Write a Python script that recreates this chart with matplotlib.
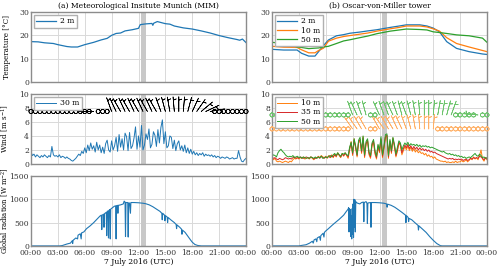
import numpy as np
import matplotlib
matplotlib.use("Agg")
from matplotlib import pyplot as plt

plt.rcParams['font.family'] = ['DejaVu Serif']
plt.rcParams['font.size'] = 5.5
plt.rcParams['mathtext.fontset'] = 'dejavuserif'

C_BLUE = '#1f77b4'
C_ORANGE = '#ff7f0e'
C_RED = '#d62728'
C_GREEN = '#2ca02c'

# ---- temperature (hours, degC)
t_mim_h = [0, 0.8, 1.5, 2.5, 3.0, 4.0, 4.5, 5.2, 6.0, 7.0, 7.8, 8.5, 9.0, 9.5, 10.0, 10.5, 11.3,
           12.0, 12.2, 12.8, 13.5, 13.6, 13.7, 14.1, 14.5, 15.0, 15.5, 16.0, 17.0, 18.0, 19.0,
           20.0, 21.0, 22.0, 23.0, 23.3, 23.6, 24.0]
t_mim_2m = [17.3, 17.2, 16.8, 16.5, 16.0, 15.2, 15.0, 15.0, 16.0, 17.0, 18.0, 18.7, 20.0, 20.8,
            21.0, 21.9, 22.4, 23.0, 24.6, 24.9, 25.1, 24.3, 25.2, 25.9, 25.5, 25.0, 24.8, 24.0,
            23.2, 22.7, 21.9, 21.0, 19.9, 19.0, 18.2, 17.9, 18.4, 16.9]

t_ovm_h = [0, 1.3, 2.8, 3.3, 4.1, 4.8, 5.2, 5.75, 6.3, 7.2, 8.0, 8.7, 9.8, 10.7, 11.7, 13.2, 14.2,
           15.0, 16.5, 17.3, 18.0, 18.7, 19.5, 20.6, 22.0, 23.5, 24.0]
t_ovm_2m = [14.0, 13.7, 13.7, 12.3, 11.1, 11.1, 13.0, 15.6, 18.0, 19.8, 20.3, 20.9, 21.4, 21.9,
            22.4, 23.4, 24.0, 24.5, 24.5, 24.0, 23.1, 21.5, 17.3, 14.4, 13.0, 12.0, 11.8]
t_ovm_10m = [15.3, 14.9, 14.8, 13.8, 12.5, 12.5, 13.5, 14.5, 17.5, 18.8, 19.5, 19.9, 20.5, 21.0,
             21.8, 22.8, 23.4, 24.0, 24.0, 23.6, 22.8, 21.8, 19.0, 16.5, 15.0, 13.5, 13.0]
t_ovm_50m = [17.0, 16.5, 15.0, 14.8, 14.3, 14.5, 14.6, 15.0, 15.3, 16.5, 17.6, 18.1, 19.0, 19.7,
             20.7, 21.8, 22.3, 22.7, 22.5, 22.3, 21.5, 21.2, 20.8, 20.2, 19.8, 18.8, 17.0]

# ---- wind speed, 10 min values (m/s)
wind_mim_30m = [
    1.7, 1.2, 1.4, 1.0, 1.3, 1.1,
    0.9, 1.2, 1.0, 1.3, 1.1, 0.9,
    1.2, 1.0, 2.5, 1.3, 1.1, 1.2,
    1.0, 1.3, 0.9, 1.1, 1.0, 0.8,
    1.0, 0.8, 0.7, 0.5, 0.4, 0.6,
    0.8, 1.1, 1.4, 1.2, 1.8, 1.5,
    2.3, 1.6, 2.7, 1.9, 3.0, 2.1,
    2.6, 1.7, 3.1, 2.0, 2.7, 1.6,
    2.4, 1.5, 2.9, 3.4, 2.0, 1.7,
    3.3, 2.0, 2.6, 3.8, 1.8, 4.2,
    2.4, 3.6, 2.0, 4.4, 3.9, 1.9,
    4.5, 2.2, 2.6, 3.7, 5.3, 2.1,
    4.0, 2.4, 5.5, 2.0, 2.7, 4.3,
    3.5, 5.0, 2.3, 2.8, 4.6, 4.1,
    2.5, 4.9, 3.0, 5.2, 6.3, 2.9,
    4.6, 2.3, 2.6, 4.0, 3.8, 2.2,
    3.4, 1.9, 2.9, 3.3, 2.0, 2.6,
    1.8, 2.7, 1.6, 2.3, 1.5, 2.1,
    1.4, 1.8, 1.3, 1.6, 1.2, 1.5,
    1.3, 1.6, 1.1, 1.4, 1.2, 1.3,
    1.1, 1.3, 1.0, 1.2, 0.9, 1.1,
    1.0, 0.8, 1.0, 0.9, 0.8, 1.0,
    0.9, 0.7, 0.8, 0.9, 0.7, 0.8,
    0.8, 1.9, 1.0, 0.4, 0.3, 0.6,
    0.8]

wind_ovm_10m = [
    0.9, 0.6, 0.8, 0.4, 0.3, 0.4,
    0.3, 0.2, 0.3, 0.4, 0.3, 0.2,
    0.4, 0.3, 0.6, 0.8, 0.7, 0.9,
    0.7, 0.9, 0.8, 1.0, 0.7, 0.8,
    0.9, 0.7, 1.0, 0.8, 0.6, 0.9,
    0.8, 1.1, 0.9, 1.2, 1.0, 0.9,
    1.1, 0.8, 1.2, 1.0, 1.3, 0.9,
    1.4, 1.0, 1.6, 1.2, 0.9, 1.5,
    1.1, 1.6, 1.2, 0.8, 2.0, 3.2,
    1.2, 3.6, 2.2, 1.0, 3.0, 3.3,
    1.5, 3.9, 0.9, 2.8, 3.4, 1.3,
    0.8, 2.6, 3.1, 1.4, 0.7, 2.4,
    1.6, 3.5, 0.9, 2.2, 3.8, 4.0,
    0.8, 3.2, 1.5, 3.7, 2.4, 1.0,
    1.8, 3.0, 2.6, 1.3, 1.9, 2.5,
    2.0, 2.6, 1.9, 2.4, 1.8, 2.2,
    1.7, 2.0, 1.6, 1.8, 1.5, 1.6,
    1.3, 1.5, 1.1, 1.3, 1.0, 1.1,
    0.8, 1.0, 0.7, 0.6, 0.5, 0.4,
    0.4, 0.3, 0.4, 0.2, 0.3, 0.2,
    0.2, 0.3, 0.2, 0.4, 0.2, 0.3,
    0.3, 0.5, 0.3, 0.4, 0.6, 0.3,
    0.5, 0.8, 0.6, 1.0, 0.7, 0.9,
    0.6, 1.2, 2.0, 0.7, 0.4, 0.9,
    0.6]

wind_ovm_35m = [
    1.0, 0.8, 0.9, 0.7, 0.6, 0.8,
    0.7, 0.6, 0.7, 0.9, 0.8, 0.7,
    0.8, 0.7, 0.9, 1.0, 0.8, 0.9,
    0.8, 1.0, 0.9, 0.8, 0.9, 1.0,
    0.9, 0.8, 1.0, 0.9, 0.7, 0.8,
    0.9, 1.0, 0.8, 1.1, 0.9, 0.8,
    1.0, 0.9, 1.1, 0.9, 1.2, 1.0,
    1.3, 1.1, 1.5, 1.3, 1.0, 1.4,
    1.2, 1.5, 1.3, 1.0, 2.2, 3.0,
    1.4, 3.4, 2.4, 1.2, 3.2, 3.5,
    1.7, 3.7, 1.1, 3.0, 3.3, 1.5,
    1.0, 2.8, 3.3, 1.6, 0.9, 2.6,
    1.8, 3.6, 1.1, 2.4, 3.9, 4.1,
    1.0, 3.3, 1.7, 3.6, 2.6, 1.2,
    2.0, 3.1, 2.8, 1.6, 2.2, 2.7,
    2.3, 2.8, 2.2, 2.6, 2.1, 2.5,
    2.1, 2.4, 2.0, 2.3, 2.0, 2.2,
    1.9, 2.1, 1.8, 2.0, 1.7, 1.8,
    1.6, 1.7, 1.5, 1.4, 1.3, 1.2,
    1.1, 1.0, 0.9, 0.8, 0.7, 0.8,
    0.7, 0.8, 0.6, 0.7, 0.6, 0.7,
    0.6, 0.7, 0.5, 0.6, 0.7, 0.5,
    0.6, 0.8, 0.7, 0.9, 0.8, 0.9,
    0.8, 1.1, 1.0, 0.8, 0.6, 0.9,
    0.7]

wind_ovm_50m = [
    1.1, 1.3, 1.2, 1.0, 1.6, 1.9,
    2.1, 1.8, 1.6, 1.3, 1.1, 1.0,
    1.1, 1.0, 1.2, 0.9, 1.0, 1.1,
    0.9, 1.0, 0.8, 1.0, 0.9, 0.8,
    0.9, 0.8, 1.0, 0.9, 0.8, 1.0,
    0.8, 1.0, 0.9, 1.1, 0.8, 0.9,
    1.0, 0.9, 1.1, 1.2, 1.0, 1.3,
    1.5, 1.2, 1.6, 1.3, 1.1, 1.5,
    1.4, 1.6, 1.3, 1.2, 2.4, 3.1,
    1.6, 3.6, 2.6, 1.3, 3.4, 3.8,
    1.9, 4.0, 1.3, 3.2, 3.6, 1.7,
    1.2, 3.0, 3.5, 1.9, 1.1, 2.8,
    2.0, 3.9, 1.3, 2.6, 4.2, 4.3,
    1.2, 3.5, 1.9, 3.8, 2.8, 1.4,
    2.4, 3.3, 3.0, 2.0, 2.6, 3.0,
    2.7, 3.1, 2.6, 2.9, 2.7, 2.8,
    2.6, 2.8, 2.5, 2.7, 2.4, 2.6,
    2.5, 2.6, 2.4, 2.5, 2.3, 2.4,
    2.3, 2.2, 2.1, 2.0, 1.9, 1.8,
    1.7, 1.8, 1.6, 1.5, 1.4, 1.5,
    1.3, 1.4, 1.2, 1.3, 1.1, 1.2,
    1.0, 1.1, 0.9, 1.0, 0.8, 0.9,
    1.0, 0.9, 1.1, 1.3, 1.5, 1.2,
    1.1, 1.4, 1.2, 0.9, 1.0, 0.8,
    0.9]

wind_h = np.arange(len(wind_mim_30m)) / 6.0

# ---- wind barbs every 30 min: speed (0 = calm circle) and direction (deg from)
barb_h = np.arange(49) * 0.5
barb_mim_spd = [0] * 14 + [2.5] + [0] * 3 + [2.5] * 23 + [0] * 8
barb_mim_dir = [0] * 14 + [270] + [0] * 3 + [340, 335, 330, 335, 330, 335, 330, 335, 330, 335, 330,
                                              340, 345, 350, 355, 0, 5, 15, 25, 35, 50, 65, 80] + [0] * 8
barb_10m_spd = [0] * 18 + [2.5] * 4 + [0] * 2 + [2.5] * 13 + [0] * 12
barb_10m_dir = [0] * 18 + [325, 325, 330, 330] + [0] * 2 + [330, 325, 330, 330, 335, 335, 340, 345,
                                                            350, 355, 0, 0, 5] + [0] * 12
barb_50m_spd = [0] * 18 + [2.5] * 4 + [0] * 2 + [2.5] * 17 + [0] * 5 + [2.5] + [0] * 2
barb_50m_dir = [0] * 18 + [340, 335, 340, 345] + [0] * 2 + [335, 340, 340, 335, 340, 345, 340, 345,
                                                            350, 355, 0, 0, 5, 10, 10, 15, 20] + [0] * 5 + [275] + [0] * 2

# ---- global radiation (W/m2)
rad_mim_h = [0, 3.2, 3.5, 4.0, 4.4, 4.6, 4.65, 4.7, 5.0, 5.2, 5.25, 5.5, 5.6, 5.65, 5.9, 6.2, 6.6,
             7.0, 7.4, 7.7, 7.85, 7.9, 7.95, 8.1, 8.15, 8.2, 8.4, 8.45, 8.5, 8.6, 8.65, 8.7, 8.8,
             8.85, 8.9, 9.1, 9.3, 9.45, 9.5, 9.55, 9.65, 9.7, 9.75, 10.0, 10.3, 10.4, 10.5, 10.55,
             10.6, 10.8, 10.85, 10.9, 11.0, 11.1, 11.15, 11.5, 12.0, 12.5, 12.8, 13.2, 13.6, 14.0,
             14.4, 14.6, 14.65, 14.7, 14.9, 14.95, 15.0, 15.2, 15.25, 15.3, 15.6, 16.0, 16.2, 16.25,
             16.3, 16.6, 16.8, 16.85, 16.9, 17.2, 17.5, 17.8, 18.0, 18.3, 18.6, 19.0, 24.0]
rad_mim = [0, 0, 8, 40, 60, 110, 50, 120, 170, 150, 230, 260, 150, 280, 300, 370, 430,
           500, 580, 640, 660, 350, 660, 680, 400, 690, 720, 220, 740, 750, 170, 760, 780,
           150, 790, 820, 850, 860, 150, 860, 870, 700, 870, 880, 900, 960, 940, 200,
           930, 930, 190, 920, 920, 700, 930, 930, 925, 915, 905, 880, 840, 790,
           740, 700, 560, 700, 660, 540, 650, 620, 500, 610, 560, 500, 460, 370,
           450, 400, 360, 250, 340, 290, 210, 130, 80, 30, 10, 0, 0]

rad_ovm_h = [0, 3.0, 3.3, 3.8, 4.2, 4.5, 4.6, 4.7, 4.9, 5.0, 5.05, 5.3, 5.4, 5.45, 5.7, 5.8, 5.85,
             6.0, 6.3, 6.7, 7.0, 7.5, 8.0, 8.3, 8.5, 8.55, 8.6, 8.65, 8.7, 8.75, 8.8, 8.85, 8.9,
             8.95, 9.0, 9.05, 9.1, 9.15, 9.2, 9.25, 9.3, 9.35, 9.5, 9.8, 10.0, 10.2, 10.25, 10.3,
             10.5, 10.6, 10.65, 10.7, 11.0, 11.05, 11.1, 11.5, 12.0, 12.5, 12.8, 12.85, 12.9, 13.3,
             13.7, 14.0, 14.5, 14.9, 14.95, 15.0, 15.2, 15.25, 15.3, 15.6, 16.0, 16.3, 16.35, 16.4,
             16.8, 17.2, 17.6, 18.0, 18.4, 18.8, 19.0, 24.0]
rad_ovm = [0, 0, 10, 25, 60, 100, 60, 130, 150, 90, 170, 200, 120, 220, 270, 190, 290,
           320, 370, 440, 490, 570, 660, 740, 790, 820, 300, 800, 450, 780, 200, 650, 150,
           800, 250, 900, 180, 1000, 400, 990, 300, 950, 920, 900, 930, 940, 520, 930,
           950, 910, 480, 920, 930, 400, 930, 930, 925, 915, 900, 830, 895, 870,
           830, 790, 720, 660, 500, 650, 610, 520, 590, 560, 490, 440, 340, 430,
           360, 290, 200, 120, 50, 5, 0, 0]

hour_ticks = [0, 3, 6, 9, 12, 15, 18, 21, 24]
hour_labels = ['00:00', '03:00', '06:00', '09:00', '12:00', '15:00', '18:00', '21:00', '00:00']
span_h = (12.25, 12.85)


def barb_uv(spd, direc):
    spd = np.asarray(spd, dtype=float)
    d = np.deg2rad(np.asarray(direc, dtype=float))
    return -spd * np.sin(d), -spd * np.cos(d)


def draw_barbs(ax, level, spd, direc, color):
    u, v = barb_uv(spd, direc)
    ax.barbs(barb_h, np.full(len(barb_h), level), u, v, color=color, length=4.6,
             linewidth=0.5, barb_increments=dict(half=2, full=4, flag=20),
             sizes=dict(emptybarb=0.14, height=0.4, spacing=0.15),
             fill_empty=False, zorder=3, clip_on=False)


fig = plt.figure(figsize=(5.0, 2.67), dpi=100)
lefts = [0.062, 0.544]
width = 0.43
bottoms = [0.693, 0.386, 0.079]
height = 0.262
axes = [[fig.add_axes([lefts[c], bottoms[r], width, height]) for c in range(2)] for r in range(3)]

for row in axes:
    for ax in row:
        ax.set_xlim(0, 24)
        ax.set_xticks(hour_ticks)
        ax.grid(True, color='#d9d9d9', linewidth=0.7)
        ax.set_axisbelow(True)
        ax.axvspan(*span_h, color='#c8c8c8', zorder=1, linewidth=0)
        ax.tick_params(length=0, pad=2, colors='#333333', labelsize=5.5)
        ax.tick_params(axis='y', pad=1.5)
        for sp in ax.spines.values():
            sp.set_color('#8c8c8c')
            sp.set_linewidth(1.0)

leg_kw = dict(loc='upper left', fontsize=5.5, frameon=True, framealpha=1.0, edgecolor='#b0b0b0',
              fancybox=False, handlelength=2.6, borderpad=0.3, labelspacing=0.15, handletextpad=0.5,
              borderaxespad=0.4)

# temperature
ax = axes[0][0]
ax.plot(t_mim_h, t_mim_2m, color=C_BLUE, lw=0.9, label='2 m', zorder=2)
ax.set_title('(a) Meteorological Insitute Munich (MIM)', fontsize=5.5, pad=3)
ax.set_ylabel('Temperature [°C]', fontsize=5.2)
ax.legend(**leg_kw)

ax = axes[0][1]
ax.plot(t_ovm_h, t_ovm_2m, color=C_BLUE, lw=0.9, label='2 m', zorder=2)
ax.plot(t_ovm_h, t_ovm_10m, color=C_ORANGE, lw=0.9, label='10 m', zorder=2)
ax.plot(t_ovm_h, t_ovm_50m, color=C_GREEN, lw=0.9, label='50 m', zorder=2)
ax.set_title('(b) Oscar-von-Miller tower', fontsize=5.5, pad=3)
ax.legend(**leg_kw)

for ax in axes[0]:
    ax.set_ylim(0, 30)
    ax.set_yticks([0, 10, 20, 30])
    ax.set_xticklabels([])

# wind
ax = axes[1][0]
ax.plot(wind_h, wind_mim_30m, color=C_BLUE, lw=0.7, label='30 m', zorder=2)
draw_barbs(ax, 7.5, barb_mim_spd, barb_mim_dir, 'black')
ax.set_ylabel('Wind [m s$^{-1}$]', fontsize=5.2)
lg = ax.legend(**leg_kw)
lg.set_zorder(5)

ax = axes[1][1]
ax.plot(wind_h, wind_ovm_10m, color=C_ORANGE, lw=0.7, label='10 m', zorder=2)
ax.plot(wind_h, wind_ovm_35m, color=C_RED, lw=0.7, label='35 m', zorder=2)
ax.plot(wind_h, wind_ovm_50m, color=C_GREEN, lw=0.7, label='50 m', zorder=2)
draw_barbs(ax, 5.0, barb_10m_spd, barb_10m_dir, '#ffb066')
draw_barbs(ax, 7.0, barb_50m_spd, barb_50m_dir, '#6cc46c')
lg = ax.legend(**leg_kw)
lg.set_zorder(5)

for ax in axes[1]:
    ax.set_ylim(0, 10)
    ax.set_yticks([0, 2, 4, 6, 8, 10])
    ax.set_xticklabels([])

# radiation
axes[2][0].plot(rad_mim_h, rad_mim, color=C_BLUE, lw=0.8, zorder=2)
axes[2][1].plot(rad_ovm_h, rad_ovm, color=C_BLUE, lw=0.8, zorder=2)
axes[2][0].set_ylabel('Global radiation [W m$^{-2}$]', fontsize=4.9)
for ax in axes[2]:
    ax.set_ylim(0, 1500)
    ax.set_yticks([0, 500, 1000, 1500])
    ax.set_xticklabels(hour_labels)
    ax.set_xlabel('7 July 2016 (UTC)', labelpad=1)

for row in axes:
    row[0].yaxis.set_label_coords(-0.094, 0.5)

fig.savefig('out.png', dpi=100)
